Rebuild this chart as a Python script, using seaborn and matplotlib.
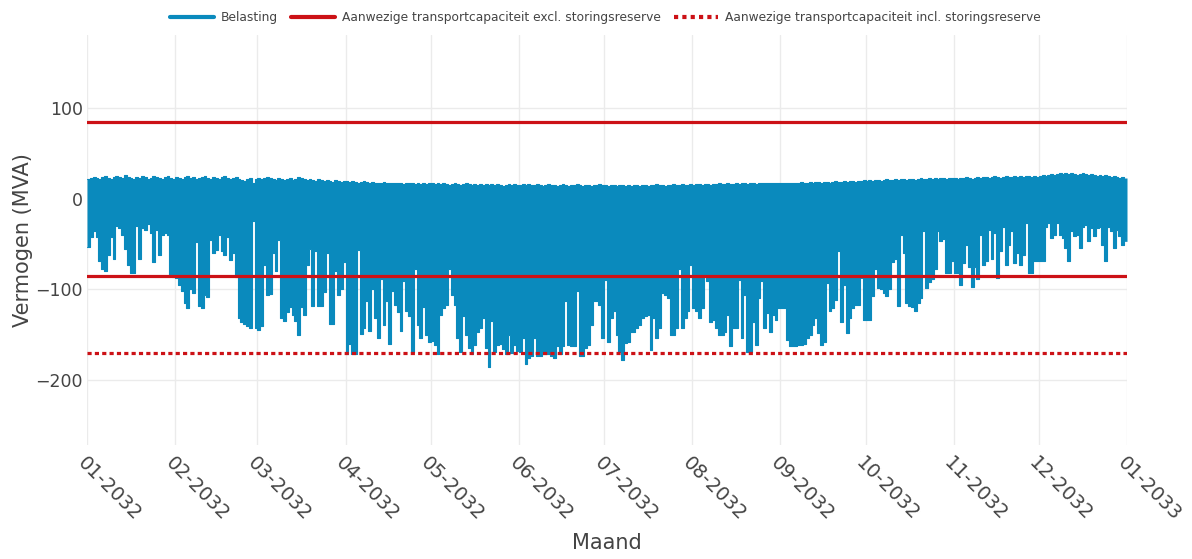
import numpy as np
import pandas as pd
import matplotlib
matplotlib.use("Agg")
import matplotlib.pyplot as plt
import matplotlib.dates as mdates
from matplotlib.lines import Line2D
import seaborn as sns

# ---------------- data ----------------
year_start = "2032-01-01"
year_end = "2033-01-01"

# daily minimum of the load (MVA), per month
min_jan = [-53, -42, -36, -42, -69, -78, -80, -62, -42, -66, -30, -32, -40, -55, -73, -82,
           -82, -30, -66, -32, -34, -28, -38, -70, -34, -62, -40, -38, -40, -84, -86]
min_feb = [-87, -95, -102, -115, -121, -100, -104, -48, -118, -121, -106, -108, -45, -60, -56,
           -40, -58, -62, -42, -68, -60, -86, -132, -136, -138, -140, -143, -25, -143]
min_mar = [-145, -140, -73, -106, -105, -60, -80, -45, -132, -135, -125, -120, -128, -135, -150,
           -120, -128, -73, -55, -118, -58, -118, -118, -103, -60, -138, -138, -80, -106, -100, -70]
min_apr = [-172, -160, -172, -172, -56, -149, -143, -113, -146, -100, -132, -154, -89, -139, -113,
           -160, -102, -117, -125, -146, -91, -124, -130, -169, -77, -139, -154, -120, -150, -158]
min_may = [-157, -161, -172, -128, -121, -117, -77, -106, -117, -154, -169, -130, -150, -165, -172,
           -161, -147, -143, -132, -165, -186, -135, -169, -162, -160, -166, -172, -150, -170, -162, -168]
min_jun = [-169, -154, -182, -176, -174, -154, -174, -174, -172, -172, -172, -174, -176, -163, -172,
           -163, -113, -161, -163, -163, -102, -174, -174, -165, -161, -139, -113, -113, -117, -154]
min_jul = [-90, -158, -132, -124, -150, -169, -178, -159, -158, -147, -147, -143, -139, -132, -130,
           -128, -167, -132, -154, -143, -104, -106, -110, -150, -150, -143, -77, -143, -132, -124, -73]
min_aug = [-121, -124, -132, -121, -84, -91, -136, -134, -143, -150, -150, -147, -128, -163, -143,
           -143, -90, -154, -106, -169, -169, -136, -161, -110, -91, -143, -126, -147, -128, -134, -121]
min_sep = [-121, -121, -156, -163, -163, -163, -161, -161, -160, -154, -150, -139, -132, -148, -161,
           -158, -93, -124, -121, -112, -58, -136, -95, -148, -132, -121, -117, -117, -88, -134]
min_oct = [-134, -134, -107, -78, -99, -100, -104, -107, -100, -70, -66, -118, -40, -60, -115,
           -118, -120, -124, -115, -110, -36, -99, -92, -89, -78, -36, -47, -44, -82, -82, -69]
min_nov = [-82, -82, -95, -71, -51, -75, -97, -75, -89, -40, -73, -69, -34, -66, -38,
           -88, -58, -31, -73, -51, -36, -71, -60, -73, -62, -27, -82, -82, -69, -69]
min_dec = [-69, -69, -31, -27, -43, -40, -27, -40, -43, -54, -69, -36, -41, -40, -54, -31,
           -29, -47, -32, -41, -32, -31, -51, -69, -31, -36, -54, -34, -41, -51, -47]

# daily maximum of the load (MVA), per month
max_jan = [22, 23, 24, 23, 22, 24, 25, 23, 22, 24, 25, 24, 23, 26, 24, 23, 22, 24, 23, 25, 24, 22,
           23, 25, 24, 23, 22, 24, 25, 23, 22]
max_feb = [24, 23, 22, 24, 25, 23, 24, 22, 23, 24, 25, 23, 22, 24, 23, 22, 24, 25, 23, 22, 23, 24,
           22, 21, 20, 22, 23, 17, 22]
max_mar = [23, 22, 23, 24, 23, 22, 21, 23, 22, 21, 22, 23, 21, 22, 24, 23, 22, 21, 22, 21, 20, 22,
           21, 20, 21, 20, 19, 21, 20, 19, 20]
max_apr = [20, 19, 20, 19, 18, 19, 20, 19, 18, 19, 18, 17, 18, 19, 18, 17, 18, 17, 18, 17, 16, 17,
           18, 17, 16, 17, 16, 17, 16, 17]
max_may = [17, 16, 17, 16, 17, 16, 15, 16, 17, 16, 15, 16, 17, 16, 15, 16, 15, 16, 15, 16, 15, 16,
           15, 16, 15, 14, 15, 16, 15, 16, 15]
max_jun = [15, 16, 15, 16, 15, 15, 16, 15, 14, 15, 16, 15, 15, 14, 15, 16, 15, 14, 15, 15, 16, 15,
           14, 15, 15, 14, 15, 15, 16, 15]
max_jul = [15, 14, 15, 15, 14, 15, 15, 14, 15, 14, 15, 15, 14, 15, 15, 14, 15, 15, 16, 15, 15, 14,
           15, 15, 16, 15, 15, 16, 15, 15, 16]
max_aug = [15, 16, 16, 15, 16, 16, 15, 16, 16, 17, 16, 16, 17, 16, 16, 17, 16, 17, 17, 16, 17, 17,
           16, 17, 17, 18, 17, 17, 18, 17, 18]
max_sep = [18, 17, 18, 18, 17, 18, 18, 19, 18, 18, 19, 18, 19, 19, 18, 19, 19, 18, 19, 20, 19, 19,
           20, 19, 20, 20, 19, 20, 20, 21]
max_oct = [20, 21, 20, 21, 21, 20, 21, 22, 21, 21, 22, 21, 22, 22, 21, 22, 22, 21, 22, 23, 22, 22,
           23, 22, 23, 22, 23, 23, 22, 23, 23]
max_nov = [23, 22, 23, 23, 24, 23, 22, 23, 24, 23, 24, 24, 23, 24, 25, 24, 23, 24, 25, 24, 24, 25,
           24, 25, 24, 25, 25, 24, 25, 24]
max_dec = [25, 26, 25, 26, 27, 26, 27, 28, 27, 28, 27, 28, 27, 26, 27, 28, 27, 26, 27, 26, 25, 26,
           25, 26, 25, 24, 25, 24, 23, 24, 23]

cap_excl = 85      # Aanwezige transportcapaciteit excl. storingsreserve (+/-)
cap_incl = -170    # Aanwezige transportcapaciteit incl. storingsreserve

label_load = "Belasting"
label_excl = "Aanwezige transportcapaciteit excl. storingsreserve"
label_incl = "Aanwezige transportcapaciteit incl. storingsreserve"

# ---------------- build tables ----------------
daily_min = (min_jan + min_feb + min_mar + min_apr + min_may + min_jun +
             min_jul + min_aug + min_sep + min_oct + min_nov + min_dec)
daily_max = (max_jan + max_feb + max_mar + max_apr + max_may + max_jun +
             max_jul + max_aug + max_sep + max_oct + max_nov + max_dec)
days = pd.date_range(year_start, periods=len(daily_min), freq="D")
edges = pd.date_range(year_start, periods=len(daily_min) + 1, freq="D")

df = pd.DataFrame({"datum": days, "min": daily_min, "max": daily_max})
caps = pd.DataFrame({
    "datum": pd.to_datetime([year_start, year_end] * 3),
    "waarde": [cap_excl, cap_excl, -cap_excl, -cap_excl, cap_incl, cap_incl],
    "lijn": ["boven", "boven", "onder", "onder", "incl", "incl"],
})

# ---------------- plot ----------------
sns.set_theme(style="white")
plt.rcParams["font.family"] = ["DejaVu Sans"]

BLUE = "#0a8abd"
RED = "#cc1116"
TXT = "#444444"
GRID = "#ebebeb"

fig = plt.figure(figsize=(11.92, 5.59), dpi=100)
ax = fig.add_axes([87 / 1192, 1 - 445 / 559, 1040 / 1192, 410 / 559])

y_min = np.append(df["min"].values, df["min"].values[-1])
y_max = np.append(df["max"].values, df["max"].values[-1])
ax.fill_between(edges, y_min, y_max, step="post", color=BLUE, linewidth=0, zorder=2)
sns.lineplot(data=df, x="datum", y="min", ax=ax, color=BLUE, linewidth=0.8,
             drawstyle="steps-post", legend=False, zorder=2)
sns.lineplot(data=df, x="datum", y="max", ax=ax, color=BLUE, linewidth=0.8,
             drawstyle="steps-post", legend=False, zorder=2)

for name, style in [("boven", "-"), ("onder", "-"), ("incl", (0, (1.3, 1.0)))]:
    sub = caps[caps["lijn"] == name]
    sns.lineplot(data=sub, x="datum", y="waarde", ax=ax, color=RED, linewidth=2.3,
                 linestyle=style, legend=False, zorder=3)

ax.set_xlim(pd.Timestamp(year_start), pd.Timestamp(year_end))
ax.set_ylim(-272, 181)
ax.set_yticks([100, 0, -100, -200])
ax.xaxis.set_major_locator(mdates.MonthLocator())
ax.xaxis.set_major_formatter(mdates.DateFormatter("%m-%Y"))
ax.grid(True, color=GRID, linewidth=1.0, zorder=0)
ax.set_axisbelow(True)
for s in ax.spines.values():
    s.set_visible(False)
ax.tick_params(axis="both", length=0, colors=TXT)
ax.tick_params(axis="y", labelsize=12.5, pad=3)
ax.tick_params(axis="x", labelsize=14, pad=6)
for lab in ax.get_xticklabels():
    lab.set_rotation(-45)
    lab.set_ha("left")
    lab.set_va("top")
    lab.set_rotation_mode("anchor")

ax.set_xlabel("Maand", fontsize=15, color=TXT, labelpad=6)
ax.set_ylabel("Vermogen (MVA)", fontsize=15, color=TXT)
ax.yaxis.set_label_coords(-0.052, 0.5)

handles = [
    Line2D([0], [0], color=BLUE, linewidth=3),
    Line2D([0], [0], color=RED, linewidth=3),
    Line2D([0], [0], color=RED, linewidth=3, linestyle=(0, (1.0, 1.0))),
]
fig.legend(handles, [label_load, label_excl, label_incl], loc="upper center",
           bbox_to_anchor=(0.508, 1.0), ncol=3, frameon=False, fontsize=8.8,
           handlelength=3.6, handletextpad=0.55, columnspacing=1.1, labelcolor=TXT)

fig.savefig("out.png", dpi=100)
